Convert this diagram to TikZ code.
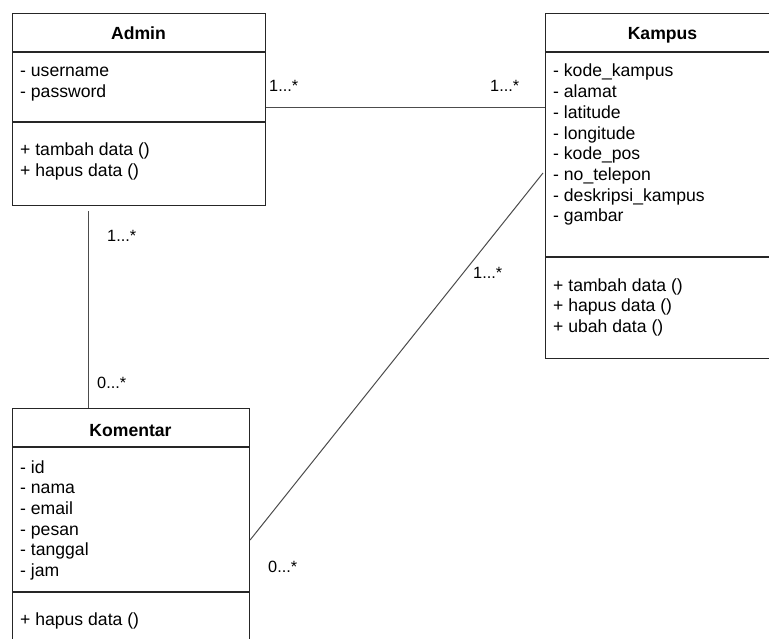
\documentclass[tikz,border=0pt]{standalone}
\usepackage{fontspec}
\setmainfont{Liberation Sans}
\begin{document}
\begin{tikzpicture}[x=1pt,y=-1pt,
  classbox/.style={draw=black!85, line width=1.1pt, rectangle, inner sep=0pt,
    anchor=north west, fill=white},
  divider/.style={draw=black!85, line width=1.1pt},
  classname/.style={font=\fontsize{17.6}{20}\selectfont\bfseries, inner sep=0pt,
    anchor=base, text=black},
  member/.style={font=\fontsize{17.6}{20}\selectfont, inner sep=0pt,
    anchor=base west, text=black},
  mult/.style={font=\fontsize{16.3}{20}\selectfont, inner sep=0pt,
    anchor=base west, text=black},
  assoc/.style={draw=black!70, line width=1pt}]

\useasboundingbox (0,0) rectangle (769,639);
\clip (0,0) rectangle (769,639);
\fill[white] (0,0) rectangle (769,639);

% ---------- Admin ----------
\node[classbox, minimum width=253, minimum height=192] (admin) at (12,13) {};
\coordinate (admin-d1) at (0,52);
\coordinate (admin-d2) at (0,122);
\draw[divider] (admin.west |- admin-d1) -- (admin.east |- admin-d1);
\draw[divider] (admin.west |- admin-d2) -- (admin.east |- admin-d2);
\node[classname] (admin-name) at (138.5,40) {Admin};
\node[member] (admin-a1) at (20,77) {- username};
\node[member] (admin-a2) at (20,97.7) {- password};
\node[member] (admin-m1) at (20,156) {+ tambah data ()};
\node[member] (admin-m2) at (20,176.7) {+ hapus data ()};

% ---------- Kampus ----------
\node[classbox, minimum width=235, minimum height=345] (kampus) at (545,13) {};
\coordinate (kampus-d1) at (0,52);
\coordinate (kampus-d2) at (0,257);
\draw[divider] (kampus.west |- kampus-d1) -- (kampus.east |- kampus-d1);
\draw[divider] (kampus.west |- kampus-d2) -- (kampus.east |- kampus-d2);
\node[classname] (kampus-name) at (662.5,40) {Kampus};
\foreach \t [count=\i from 0] in {kode\_kampus, alamat, latitude, longitude,
    kode\_pos, no\_telepon, deskripsi\_kampus, gambar}
  \node[member] (kampus-a\i) at (553,77+20.7*\i) {- \t};
\foreach \t [count=\i from 0] in {tambah data (), hapus data (), ubah data ()}
  \node[member] (kampus-m\i) at (553,291+20.7*\i) {+ \t};

% ---------- Komentar ----------
\node[classbox, minimum width=237, minimum height=260] (komentar) at (12,408) {};
\coordinate (komentar-d1) at (0,447);
\coordinate (komentar-d2) at (0,592);
\draw[divider] (komentar.west |- komentar-d1) -- (komentar.east |- komentar-d1);
\draw[divider] (komentar.west |- komentar-d2) -- (komentar.east |- komentar-d2);
\node[classname] (komentar-name) at (130.5,436) {Komentar};
\foreach \t [count=\i from 0] in {id, nama, email, pesan, tanggal, jam}
  \node[member] (komentar-a\i) at (20,473+20.7*\i) {- \t};
\node[member] (komentar-m0) at (20,625) {+ hapus data ()};

% ---------- Associations ----------
\coordinate (ak) at (0,108);
\draw[assoc] (admin.east |- ak) -- (kampus.west |- ak);
\coordinate (akm) at (88,0);
\draw[assoc] (admin.south -| akm) ++(0,5) -- (komentar.north -| akm);
\coordinate (kk-low) at (0,540);
\coordinate (kk-high) at (0,173);
\draw[assoc] (komentar.east |- kk-low) -- ([xshift=-2pt]kampus.west |- kk-high);

% ---------- Multiplicities ----------
\node[mult] (m-ak1) at (269,92) {1...*};
\node[mult] (m-ak2) at (490,92) {1...*};
\node[mult] (m-akm1) at (107,242) {1...*};
\node[mult] (m-akm2) at (97,388) {0...*};
\node[mult] (m-kk1) at (473,279) {1...*};
\node[mult] (m-kk2) at (268,572) {0...*};
\end{tikzpicture}
\end{document}
